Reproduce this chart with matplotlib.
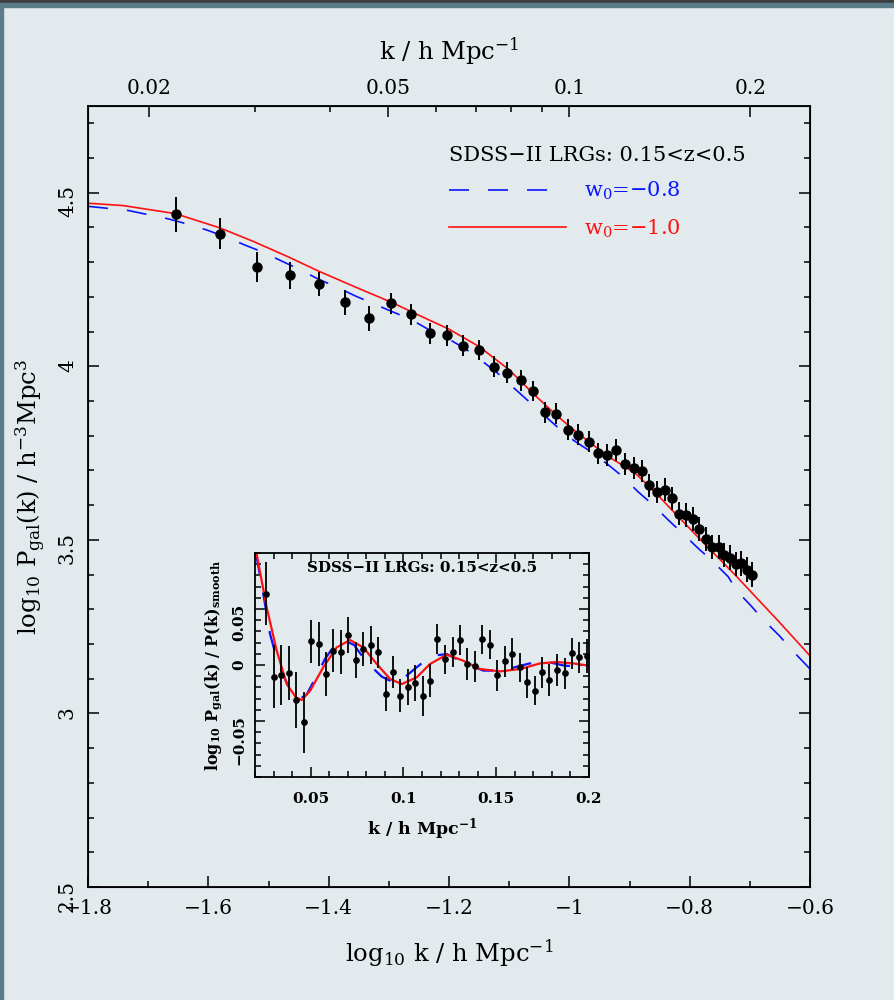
import matplotlib
matplotlib.use('Agg')
import matplotlib.pyplot as plt
import matplotlib.ticker as mticker
from matplotlib.patches import Rectangle
import numpy as np

plt.rcParams['font.family'] = ['DejaVu Serif']
plt.rcParams['mathtext.fontset'] = 'dejavuserif'
plt.rcParams['lines.scale_dashes'] = False

# --- data: main panel (log10 k, log10 P, error) ---
logk_main = [-1.654, -1.581, -1.519, -1.465, -1.416, -1.373, -1.333, -1.297, -1.263,
             -1.232, -1.203, -1.176, -1.150, -1.126, -1.103, -1.081, -1.060, -1.041,
             -1.022, -1.003, -0.986, -0.968, -0.953, -0.937, -0.922, -0.908, -0.893,
             -0.880, -0.867, -0.854, -0.841, -0.829, -0.817, -0.806, -0.795, -0.784,
             -0.773, -0.763, -0.752, -0.743, -0.733, -0.723, -0.714, -0.705, -0.697]
logP_main = [4.438, 4.382, 4.285, 4.262, 4.237, 4.185, 4.138, 4.182, 4.150,
             4.095, 4.089, 4.060, 4.047, 3.999, 3.982, 3.960, 3.929, 3.867,
             3.863, 3.817, 3.803, 3.783, 3.750, 3.744, 3.759, 3.719, 3.708,
             3.698, 3.658, 3.638, 3.644, 3.620, 3.576, 3.572, 3.561, 3.532,
             3.502, 3.479, 3.479, 3.456, 3.449, 3.431, 3.433, 3.414, 3.400]
err_main = [0.050, 0.045, 0.043, 0.038, 0.035, 0.036, 0.037, 0.030, 0.030,
            0.030, 0.030, 0.030, 0.030, 0.030, 0.030, 0.030, 0.030, 0.030,
            0.030, 0.030, 0.030, 0.030, 0.030, 0.032, 0.032, 0.032, 0.032,
            0.032, 0.033, 0.033, 0.033, 0.033, 0.033, 0.034, 0.034, 0.034,
            0.034, 0.034, 0.035, 0.035, 0.035, 0.035, 0.036, 0.036, 0.037]

# model curves, main panel
logk_red = [-1.800, -1.741, -1.655, -1.581, -1.524, -1.468, -1.415, -1.351, -1.295,
            -1.256, -1.200, -1.150, -1.100, -1.058, -1.022, -0.986, -0.935, -0.891,
            -0.858, -0.819, -0.780, -0.725, -0.652, -0.600]
logP_red = [4.470, 4.463, 4.440, 4.399, 4.359, 4.316, 4.273, 4.225, 4.184,
            4.152, 4.107, 4.057, 3.990, 3.918, 3.860, 3.807, 3.740, 3.693,
            3.638, 3.567, 3.497, 3.400, 3.265, 3.166]
logk_blue = [-1.800, -1.733, -1.700, -1.667, -1.635, -1.603, -1.570, -1.540, -1.508,
             -1.479, -1.447, -1.417, -1.386, -1.356, -1.325, -1.295, -1.262, -1.233,
             -1.208, -1.174, -1.147, -1.119, -1.095, -1.070, -1.046, -1.021, -0.994,
             -0.966, -0.938, -0.911, -0.886, -0.861, -0.836, -0.812, -0.786, -0.761,
             -0.736, -0.722, -0.698, -0.676, -0.651, -0.629, -0.600]
logP_blue = [4.461, 4.449, 4.437, 4.425, 4.410, 4.393, 4.372, 4.350, 4.328,
             4.304, 4.278, 4.251, 4.228, 4.203, 4.180, 4.158, 4.134, 4.105,
             4.086, 4.052, 4.018, 3.980, 3.942, 3.903, 3.865, 3.827, 3.788,
             3.756, 3.720, 3.682, 3.639, 3.601, 3.558, 3.519, 3.476, 3.437,
             3.394, 3.354, 3.310, 3.267, 3.224, 3.181, 3.128]

# --- data: inset (k, log10 P/P_smooth, error) ---
k_inset = [0.0261, 0.0301, 0.0340, 0.0382, 0.0421, 0.0463, 0.0502, 0.0543, 0.0583,
           0.0622, 0.0664, 0.0703, 0.0743, 0.0784, 0.0824, 0.0863, 0.0905, 0.0944,
           0.0983, 0.1025, 0.1064, 0.1104, 0.1143, 0.1183, 0.1224, 0.1266, 0.1304,
           0.1344, 0.1386, 0.1425, 0.1467, 0.1506, 0.1548, 0.1587, 0.1627, 0.1668,
           0.1708, 0.1747, 0.1787, 0.1826, 0.1868, 0.1907, 0.1948, 0.1988]
ratio_inset = [0.0637, -0.0104, -0.0087, -0.0071, -0.0313, -0.0512, 0.0211, 0.0187, -0.0080,
               0.0128, 0.0116, 0.0268, 0.0047, 0.0143, 0.0175, 0.0113, -0.0259, -0.0063,
               -0.0274, -0.0194, -0.0164, -0.0277, -0.0140, 0.0232, 0.0050, 0.0116, 0.0223,
               0.0009, -0.0012, 0.0229, 0.0181, -0.0093, 0.0032, 0.0098, -0.0021, -0.0155,
               -0.0229, -0.0066, -0.0134, -0.0045, -0.0075, 0.0104, 0.0068, 0.0083]
err_inset = [0.028, 0.028, 0.027, 0.024, 0.025, 0.027, 0.019, 0.020, 0.020,
             0.019, 0.020, 0.016, 0.016, 0.015, 0.017, 0.014, 0.015, 0.014,
             0.015, 0.016, 0.016, 0.018, 0.015, 0.013, 0.013, 0.013, 0.013,
             0.014, 0.014, 0.013, 0.013, 0.014, 0.014, 0.014, 0.013, 0.014,
             0.013, 0.014, 0.014, 0.014, 0.014, 0.014, 0.014, 0.015]

k_red_in = [0.0209, 0.0263, 0.0317, 0.0371, 0.0421, 0.0452, 0.0497, 0.0568, 0.0640,
            0.0712, 0.0784, 0.0856, 0.0928, 0.0991, 0.1072, 0.1143, 0.1233, 0.1323,
            0.1413, 0.1521, 0.1628, 0.1736, 0.1826, 0.1916, 0.2000]
v_red_in = [0.099, 0.0514, 0.0128, -0.017, -0.029, -0.0313, -0.023, -0.002, 0.0157,
            0.0223, 0.0157, 0.0009, -0.0125, -0.017, -0.011, 0.0009, 0.0092, 0.0038,
            -0.0036, -0.0057, -0.0036, 0.0014, 0.0027, 0.0014, -0.0006]
k_blue_in = [0.0206, 0.0245, 0.0281, 0.0313, 0.0360, 0.0400, 0.0445, 0.0480, 0.0529,
             0.0577, 0.0640, 0.0680, 0.0734, 0.0798, 0.0883, 0.0964, 0.1053, 0.1147,
             0.1233, 0.1340, 0.1430, 0.1530, 0.1600, 0.1680, 0.1797, 0.1868, 0.1975,
             0.2000]
v_blue_in = [0.099, 0.063, 0.0277, 0.0083, -0.012, -0.026, -0.030, -0.026, -0.0104,
             0.0054, 0.0202, 0.022, 0.0179, 0.0032, -0.0104, -0.017, -0.0045, 0.008,
             0.0098, 0.0009, -0.005, -0.005, -0.002, 0.0014, 0.002, -0.0006, -0.0015,
             -0.0015]

top_k_labels = [0.02, 0.05, 0.1, 0.2]
top_k_minor = [0.03, 0.04, 0.06, 0.07, 0.08, 0.09]

BG = '#e2eaed'
W, H = 894, 1000


def px_rect(x0, y0, x1, y1):
    return [x0 / W, 1 - y1 / H, (x1 - x0) / W, (y1 - y0) / H]


def fmt_minus(v, pos=None):
    s = '%g' % round(v, 4)
    return s.replace('-', '\u2212')


fig = plt.figure(figsize=(8.94, 10), dpi=100)
fig.patch.set_facecolor(BG)
# page frame bands
fig.patches.append(Rectangle((0, 1 - 3 / H), 1, 3 / H, transform=fig.transFigure,
                             color='#3b3d3f', zorder=0))
fig.patches.append(Rectangle((0, 1 - 7 / H), 1, 4 / H, transform=fig.transFigure,
                             color='#5a7b88', zorder=0))
fig.patches.append(Rectangle((0, 0), 3 / W, 1 - 7 / H, transform=fig.transFigure,
                             color='#5a7b88', zorder=0))

# ---------------- main panel ----------------
ax = fig.add_axes(px_rect(88, 106, 810, 887))
ax.set_facecolor(BG)
ax.plot(logk_blue, logP_blue, color='#0a14ff', lw=1.2, dashes=(14.4, 13.7),
        label=r'w$_0$=$-$0.8')
ax.plot(logk_red, logP_red, color='#ff1010', lw=1.2, label=r'w$_0$=$-$1.0')
ax.errorbar(logk_main, logP_main, yerr=err_main, fmt='o', color='black', ms=6.5,
            elinewidth=1.4, capsize=0, zorder=5)
ax.set_xlim(-1.8, -0.6)
ax.set_ylim(2.5, 4.75)
ax.xaxis.set_major_locator(mticker.MultipleLocator(0.2))
ax.xaxis.set_minor_locator(mticker.MultipleLocator(0.1))
ax.yaxis.set_major_locator(mticker.MultipleLocator(0.5))
ax.yaxis.set_minor_locator(mticker.MultipleLocator(0.1))
ax.xaxis.set_major_formatter(mticker.FuncFormatter(fmt_minus))
ax.yaxis.set_major_formatter(mticker.FuncFormatter(fmt_minus))
ax.tick_params(which='both', direction='in', top=False, right=True, width=1.1,
               labelsize=14.5)
ax.tick_params(which='major', length=8)
ax.tick_params(which='minor', length=4.5)
ax.tick_params(axis='x', pad=9)
ax.tick_params(axis='y', labelrotation=90, pad=8)
for s in ax.spines.values():
    s.set_linewidth(1.3)
ax.set_xlabel(r'log$_{10}$ k / h Mpc$^{-1}$', fontsize=17.5, labelpad=14)
ax.set_ylabel(r'log$_{10}$ P$_{\rm gal}$(k) / h$^{-3}$Mpc$^3$', fontsize=17.5)
ax.yaxis.set_label_coords(-(88 - 48) / 722, 0.5)

# top axis in k
top = ax.twiny()
top.set_xlim(ax.get_xlim())
top.set_xticks(np.log10(top_k_labels))
top.set_xticklabels(['%g' % v for v in top_k_labels])
top.set_xticks(np.log10(top_k_minor), minor=True)
top.tick_params(which='both', direction='in', width=1.1, labelsize=14.5, pad=5.5)
top.tick_params(which='major', length=8)
top.tick_params(which='minor', length=4.5)
top.set_xlabel(r'k / h Mpc$^{-1}$', fontsize=17.5, labelpad=14)

leg = ax.legend(loc='upper left', bbox_to_anchor=((449 - 88) / 722, (887 - 146) / 781),
                frameon=False, fontsize=15, handlelength=5.6, handletextpad=0.9,
                labelspacing=0.72, borderaxespad=0, borderpad=0,
                title='SDSS\u2212II LRGs: 0.15<z<0.5', title_fontsize=15,
                alignment='left', labelcolor='linecolor')
leg.get_title().set_color('black')

# ---------------- inset ----------------
ins = fig.add_axes(px_rect(255, 553, 589, 777))
ins.set_facecolor(BG)
ins.plot(k_blue_in, v_blue_in, color='#0a14ff', lw=1.6, dashes=(14.4, 13.7))
ins.plot(k_red_in, v_red_in, color='#ff1010', lw=1.6)
ins.errorbar(k_inset, ratio_inset, yerr=err_inset, fmt='o', color='black', ms=3.8,
             elinewidth=1.3, capsize=0, zorder=5)
ins.set_xlim(0.02, 0.2)
ins.set_ylim(-0.1, 0.1)
ins.set_xticks([0.05, 0.1, 0.15, 0.2])
ins.xaxis.set_minor_locator(mticker.MultipleLocator(0.01))
ins.set_yticks([-0.05, 0, 0.05])
ins.yaxis.set_minor_locator(mticker.MultipleLocator(0.01))
ins.xaxis.set_major_formatter(mticker.FuncFormatter(fmt_minus))
ins.yaxis.set_major_formatter(mticker.FuncFormatter(fmt_minus))
ins.tick_params(which='both', direction='in', top=True, right=True, width=1.1,
                labelsize=11)
ins.tick_params(which='major', length=7)
ins.tick_params(which='minor', length=4)
ins.tick_params(axis='x', pad=11)
ins.tick_params(axis='y', labelrotation=90, pad=6)
for lab in ins.get_xticklabels() + ins.get_yticklabels():
    lab.set_fontweight('bold')
for s in ins.spines.values():
    s.set_linewidth(1.3)
ins.text(0.5, 1 - 15 / 224, 'SDSS\u2212II LRGs: 0.15<z<0.5', transform=ins.transAxes,
         ha='center', va='center', fontsize=10.9, fontweight='bold')
ins.set_xlabel(r'k / h Mpc$^{\mathbf{-1}}$', fontsize=12.5, fontweight='bold',
               labelpad=7)
ins.set_ylabel(r'log$_{\mathbf{10}}$ P$_{\mathbf{gal}}$(k) / P(k)$_{\mathbf{smooth}}$',
               fontsize=11.5, fontweight='bold', labelpad=6)

fig.savefig('out.png', dpi=100, facecolor=BG)
